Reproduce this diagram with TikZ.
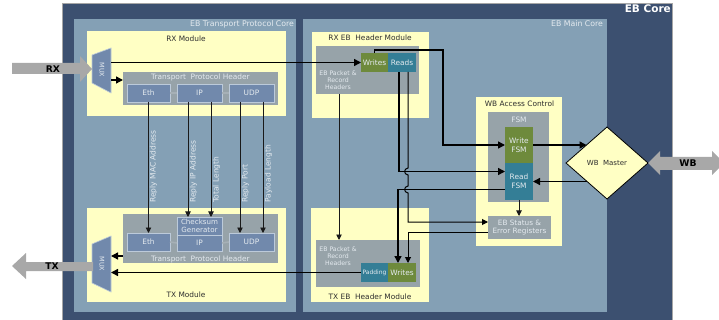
\documentclass[tikz,border=0pt]{standalone}
\usepackage{fontspec}
\setmainfont{DejaVu Sans}
\usetikzlibrary{arrows.meta,shapes.geometric,calc}
\definecolor{cdark}{HTML}{3C5070}
\definecolor{clight}{HTML}{84A0B5}
\definecolor{cyel}{HTML}{FFFFC4}
\definecolor{cgray}{HTML}{97A3A9}
\definecolor{cslate}{HTML}{7189AC}
\definecolor{cbord}{HTML}{BCCADA}
\definecolor{cgreen}{HTML}{6E8A3C}
\definecolor{cteal}{HTML}{347E96}
\definecolor{carrow}{HTML}{A8A8A8}
\definecolor{ctxt}{HTML}{E4EAEF}
\definecolor{cdtxt}{HTML}{2E2E2E}
\definecolor{cminor}{HTML}{A6B0B6}
\tikzset{
  rect/.style={inner sep=0pt, outer sep=0pt, anchor=north west, draw=none},
  slate/.style={rect, fill=cslate, draw=cbord, line width=0.8, text=ctxt, font=\fontsize{7.4}{8}\selectfont},
  cbox/.style={rect, text=ctxt, align=center, font=\fontsize{7.4}{9}\selectfont},
  lbl/.style={inner sep=0pt, outer sep=0pt, font=\fontsize{7.4}{8}\selectfont},
  dlbl/.style={lbl, text=cdtxt},
  llbl/.style={lbl, text=ctxt},
  clbl/.style={lbl, text=ctxt, font=\fontsize{7.8}{9}\selectfont},
  small/.style={lbl, text=ctxt, align=center, font=\fontsize{6.2}{7.3}\selectfont},
  vlbl/.style={lbl, text=ctxt, rotate=90, anchor=north west, font=\fontsize{7.5}{8}\selectfont},
  biglbl/.style={inner sep=0pt, font=\fontsize{9.2}{11}\selectfont\bfseries},
  conn/.style={draw=black, line width=1.4, -{Triangle[length=7,width=7]}},
  connmid/.style={draw=black, line width=1.0, -{Triangle[length=6,width=6]}},
  connthin/.style={draw=black!90, line width=0.9, -{Triangle[length=5.5,width=5.5]}},
  minor/.style={draw=cminor, line width=1.6},
  muxst/.style={fill=cslate, draw=cbord, line width=0.6},
  bigarrow/.style={fill=carrow},
}
\begin{document}
\begin{tikzpicture}[x=1pt,y=-1pt]
\useasboundingbox (0,0) rectangle (719,320);
\clip (0,0) rectangle (719,320);

% containers
\node[rect, fill=cdark, draw=black!35, line width=0.8, minimum width=610, minimum height=320] (core) at (62,3) {};
\node[biglbl, text=white, anchor=east, font=\fontsize{10.5}{12}\selectfont\bfseries] (corelbl) at (671,8.5) {EB Core};
\node[rect, fill=clight, minimum width=222, minimum height=293] (tpc) at (74,19) {};
\node[clbl, anchor=east] (tpclbl) at (294,24) {EB Transport Protocol Core};
\node[rect, fill=clight, minimum width=304, minimum height=293] (mainc) at (303,19) {};
\node[clbl, anchor=east] (mainlbl) at (603,24) {EB Main Core};

% modules
\node[rect, fill=cyel, minimum width=199, minimum height=85] (rxmod) at (87,31) {};
\node[dlbl] at (186,39) {RX Module};
\node[rect, fill=cyel, minimum width=199, minimum height=94] (txmod) at (87,208) {};
\node[dlbl] at (186,295) {TX Module};
\node[rect, fill=cyel, minimum width=117, minimum height=86] (rxeb) at (312,32) {};
\node[dlbl] at (370,37.5) {RX EB\ \ Header Module};
\node[rect, fill=cyel, minimum width=118, minimum height=94] (txeb) at (311,208) {};
\node[dlbl] at (370,297) {TX EB\ \ Header Module};
\node[rect, fill=cyel, minimum width=86, minimum height=149] (wbac) at (476,97) {};
\node[dlbl] at (519.5,104) {WB Access Control};

% EB header modules
\node[rect, fill=cgray, minimum width=103, minimum height=48] (rxpk) at (316,46) {};
\node[small] at (338,80) {EB Packet \&\\Record\\Headers};
\node[cbox, fill=cgreen, minimum width=27, minimum height=19] (rxwr) at (361,53) {Writes};
\node[cbox, fill=cteal, minimum width=28, minimum height=19] (rxrd) at (388,53) {Reads};
\node[rect, fill=cgray, minimum width=104, minimum height=47] (txpk) at (316,240) {};
\node[small] at (338,256) {EB Packet \&\\Record\\Headers};
\node[cbox, fill=cteal, minimum width=27, minimum height=19, font=\fontsize{6}{7}\selectfont] (txpad) at (361,263) {Padding};
\node[cbox, fill=cgreen, minimum width=28, minimum height=19] (txwr) at (388,263) {Writes};

% WB access control
\node[rect, fill=cgray, minimum width=61, minimum height=90] (fsm) at (488,112) {};
\node[llbl] at (519,120) {FSM};
\node[cbox, fill=cgreen, minimum width=28, minimum height=36] (wfsm) at (505,127) {Write\\FSM};
\node[cbox, fill=cteal, minimum width=28, minimum height=37] (rfsm) at (505,163) {Read\\FSM};
\node[cbox, fill=cgray, minimum width=63, minimum height=23, font=\fontsize{7.3}{8.8}\selectfont] (ebs) at (488,216) {EB Status \&\\Error Registers};

% WB master
\node[diamond, draw=black, line width=0.8, fill=cyel, inner sep=0pt, outer sep=0pt, minimum width=82, minimum height=72, text=cdtxt, font=\fontsize{7}{8}\selectfont] (wbm) at (607,163) {WB\ \ Master};
\coordinate (wbmu) at ($(wbm.west)!0.5!(wbm.north)$);
\coordinate (wbml) at ($(wbm.west)!0.5!(wbm.south)$);

% transport protocol headers
\node[rect, fill=cgray, minimum width=155, minimum height=33] (rxtph) at (123,72) {};
\node[llbl] at (200.5,77.5) {Transport\ \ Protocol Header};
\node[slate, minimum width=43, minimum height=18] (rxeth) at (127,84) {Eth};
\node[slate, minimum width=45, minimum height=18] (rxip) at (177,84) {IP};
\node[slate, minimum width=45, minimum height=18] (rxudp) at (229,84) {UDP};
\draw[minor] (rxeth.east) -- (rxip.west);
\draw[minor] (rxip.east) -- (rxudp.west);

\node[rect, fill=cgray, minimum width=155, minimum height=49] (txtph) at (123,214) {};
\node[llbl] at (200.5,259) {Transport\ \ Protocol Header};
\node[slate, minimum width=43, minimum height=18] (txeth) at (127,233) {Eth};
\node[slate, minimum width=45, minimum height=16] (txip) at (177,235) {IP};
\node[slate, minimum width=45, minimum height=18, align=center, font=\fontsize{7.1}{7.4}\selectfont] (txck) at (177,217) {Checksum\\Generator};
\node[slate, minimum width=45, minimum height=18] (txudp) at (229,233) {UDP};
\draw[minor] (txeth.east) -- (txip.west);
\draw[minor] (txip.east) -- (txudp.west);

% MUXes
\node[rect, minimum width=19, minimum height=45] (rxmux) at (92,48) {};
\filldraw[muxst] (rxmux.north east) -- (rxmux.south east) -- (92,83) -- (92,55) -- cycle;
\node[lbl, text=ctxt, rotate=-90, font=\fontsize{6.4}{7}\selectfont] at (102,70) {MUX};
\node[rect, minimum width=19, minimum height=56] (txmux) at (92,236) {};
\filldraw[muxst] (txmux.north east) -- (txmux.south east) -- (92,283) -- (92,244) -- cycle;
\node[lbl, text=ctxt, rotate=-90, font=\fontsize{6.4}{7}\selectfont] at (102,264) {MUX};

% big external arrows
\fill[bigarrow] (12,63) -- (80,63) -- (80,56) -- (92,69) -- (80,82) -- (80,74) -- (12,74) -- cycle;
\node[biglbl] (rxl) at (53,69) {RX};
\fill[bigarrow] (93,262) -- (26,262) -- (26,253) -- (12,266) -- (26,279) -- (26,271) -- (93,271) -- cycle;
\node[biglbl] (txl) at (52,266) {TX};
\fill[bigarrow] (648,163) -- (660,151) -- (660,157) -- (712,157) -- (712,151) -- (724,163) -- (712,175) -- (712,170) -- (660,170) -- (660,175) -- cycle;
\node[biglbl] (wbl) at (688,163.5) {WB};

% connectors: RX side
\draw[conn] (rxmux.east |- rxwr.west) -- (rxwr.west);
\draw[conn] (rxmux.east |- 0,80) -- (rxtph.west |- 0,80);
\draw[connthin] (rxeth.south) -- (txeth.north);
\draw[connthin] ([xshift=-11.5]rxip.south) -- ([xshift=-11.5]txck.north);
\draw[connthin] ([xshift=11.5]rxip.south) -- ([xshift=11.5]txck.north);
\draw[connthin] ([xshift=-11.5]rxudp.south) -- ([xshift=-11.5]txudp.north);
\draw[connthin] ([xshift=11.5]rxudp.south) -- ([xshift=11.5]txudp.north);
\node[vlbl] at (150,202.5) {Reply MAC Address};
\node[vlbl] at (190,202.5) {Reply IP Address};
\node[vlbl] at (213,202.5) {Total Length};
\node[vlbl] at (242,202.5) {Reply Port};
\node[vlbl] at (265,202.5) {Payload Length};

% connectors: main core
\draw[conn] (rxwr.north) -- ++(0,-3) -| ([xshift=-62]wfsm.west) -- (wfsm.west);
\draw[conn] (wfsm.east) -- (wfsm.east -| wbmu);
\draw[conn] (rfsm.east -| wbml) -- (rfsm.east);
\draw[conn] ([xshift=-3]rxrd.south) |- (rfsm.west |- 0,171.5);
\draw[connmid] ([xshift=6]rxrd.south) -- (408,168)
  .. controls (403.5,168.8) and (403.5,174.2) .. (408,175)
  -- (408,186)
  .. controls (403.5,186.8) and (403.5,192.2) .. (408,193)
  -- (408,222) -- (ebs.west |- 0,222);
\draw[conn] (rfsm.west |- 0,189.5) -| ([xshift=-4]txwr.north);
\draw[connmid] (ebs.west |- 0,232) -| ([xshift=6]txwr.north);
\draw[connthin] (rfsm.south) -- (rfsm.south |- ebs.north);
\draw[connthin] (rxpk.south -| 339,0) -- (txpk.north -| 339,0);

% connectors: TX side
\draw[conn] (txpad.west) -- (txpad.west -| txmux.east);
\draw[conn] (txtph.west |- 0,256) -- (txmux.east |- 0,256);
\end{tikzpicture}
\end{document}
